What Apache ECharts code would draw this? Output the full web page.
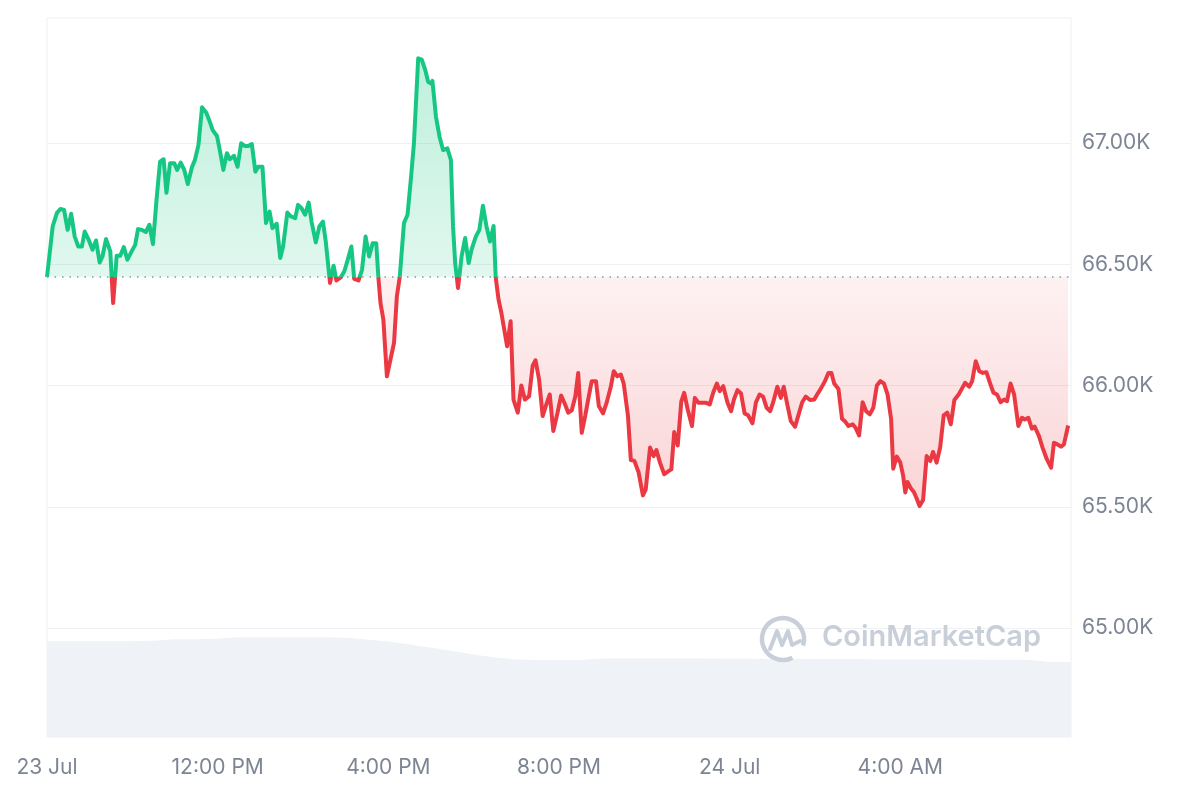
<!DOCTYPE html>
<html><head><meta charset="utf-8">
<script src="https://cdn.jsdelivr.net/npm/echarts@6/dist/echarts.min.js"></script>
<style>html,body{margin:0;padding:0;background:#fff}#c{width:1200px;height:800px}</style>
</head><body><div id="c"></div>
<script>
// Open price (baseline), minutes after 23 Jul 08:00
const openPrice = 66448;
const priceTimes = [
0,8,14,19,24,29,34,39,44,49,
53,58,64,69,74,78,83,89,93,98,
103,108,113,119,124,128,133,139,144,149,
154,159,164,168,173,179,183,188,193,198,
204,208,213,218,224,228,233,239,243,248,
253,257,263,268,273,278,283,288,293,297,
303,308,313,317,323,328,332,338,343,349,
353,358,363,368,372,378,383,388,392,398,
403,407,413,418,423,428,432,438,443,448,
453,458,463,466,469,473,478,483,488,492,
496,502,507,512,516,522,527,532,536,540,
542,547,552,557,563,568,571,574,578,583,
588,593,597,603,608,613,618,623,628,631,
635,639,647,652,656,662,667,672,678,683,
687,692,697,703,707,712,718,723,728,733,
738,743,747,752,757,761,766,772,776,782,
787,793,797,802,807,811,817,821,826,832,
838,842,848,853,857,862,868,874,878,882,
887,892,896,901,907,911,916,922,926,932,
937,942,946,951,957,962,966,971,976,981,
986,992,997,1002,1007,1012,1017,1021,1027,1032,
1036,1041,1046,1052,1057,1062,1067,1073,1079,1083,
1088,1094,1099,1103,1107,1113,1118,1122,1127,1133,
1137,1142,1147,1152,1157,1162,1167,1172,1177,1182,
1187,1190,1195,1200,1204,1207,1210,1215,1219,1223,
1227,1232,1237,1242,1246,1251,1256,1261,1266,1271,
1276,1282,1286,1291,1297,1301,1306,1311,1316,1321,
1326,1331,1336,1341,1346,1350,1355,1360,1366,1371,
1375,1380,1385,1389,1395,1400,1406,1412,1416,1421,
1426,1430,1436
];
const priceValues = [
66448,66656,66712,66728,66724,66642,66708,66614,66573,66573,
66635,66605,66560,66598,66507,66532,66604,66553,66340,66535,
66535,66571,66519,66553,66580,66645,66642,66633,66663,66583,
66765,66923,66933,66795,66916,66916,66889,66919,66889,66831,
66902,66930,66992,67147,67125,67095,67053,67029,66971,66889,
66958,66933,66947,66902,66999,66988,66988,66996,66882,66902,
66902,66670,66717,66649,66667,66526,66573,66713,66697,66690,
66745,66731,66704,66754,66676,66590,66656,66676,66594,66423,
66494,66433,66446,66470,66519,66573,66440,66433,66477,66614,
66532,66587,66587,66446,66340,66272,66038,66107,66176,66368,
66446,66670,66704,66861,66999,67349,67344,67300,67252,67246,
67256,67108,67026,66971,66978,66930,66656,66505,66402,66532,
66608,66505,66560,66614,66642,66741,66656,66594,66658,66446,
66354,66299,66162,66265,65942,65888,66000,65942,65956,66082,
66104,66025,65874,65929,65963,65812,65888,65959,65926,65888,
65898,65956,66052,65805,65877,65942,66018,66018,65915,65885,
65929,65997,66059,66038,66045,66008,65874,65693,65689,65641,
65547,65572,65744,65709,65734,65682,65634,65647,65654,65808,
65753,65935,65970,65901,65833,65949,65929,65929,65929,65922,
65972,66008,65977,65997,65929,65894,65942,65981,65967,65885,
65877,65844,65931,65963,65954,65908,65894,65929,65995,65949,
65995,65922,65853,65830,65881,65931,65954,65940,65942,65963,
65986,66018,66052,66052,66008,65986,65863,65853,65833,65840,
65826,65794,65931,65894,65881,65908,66000,66018,66008,65963,
65863,65657,65707,65682,65627,65559,65602,65575,65561,65534,
65503,65528,65709,65689,65726,65682,65744,65877,65888,65840,
65940,65963,65984,66011,65995,66018,66100,66059,66052,66055,
66011,65970,65963,65931,65942,65935,66008,65963,65833,65867,
65860,65867,65822,65830,65791,65744,65696,65661,65764,65757,
65748,65757,65835
];
// 24h volume (billions USD), every 30 minutes
const volumeTimes = [0,30,60,90,120,150,180,210,240,270,300,330,360,390,420,450,480,510,540,570,600,630,660,690,720,750,780,810,840,870,900,930,960,990,1020,1050,1080,1110,1140,1170,1200,1230,1260,1290,1320,1350,1380,1410,1440];
const volumeValues = [28.8,28.8,28.8,28.8,28.8,28.9,29.4,29.4,29.5,30.0,30.0,30.0,30.0,30.0,29.8,29.3,28.7,27.8,26.8,25.8,24.8,23.9,23.3,23.1,23.1,23.1,23.6,23.6,23.6,23.6,23.6,23.6,23.5,23.5,23.4,23.4,23.4,23.4,23.4,23.3,23.3,23.3,23.3,23.3,23.2,23.2,23.2,22.5,22.5];
const xTickLabels = ['23 Jul','12:00 PM','4:00 PM','8:00 PM','24 Jul','4:00 AM',''];
const yTickValues = [65000,65500,66000,66500,67000];

const n = Math.min(priceTimes.length, priceValues.length);
const priceData = [];
for (let i = 0; i < n; i++) priceData.push([priceTimes[i], priceValues[i]]);
const volData = volumeTimes.map((t, i) => [t, volumeValues[i]]);

const GREEN = '#16c784', RED = '#ea3943', GRID = '#eef0f4', LABEL = '#7d8494', WM = '#c9cfd9';
const FONT = 'Inter, "Noto Sans", sans-serif';
const chart = echarts.init(document.getElementById('c'));
chart.setOption({
  animation: false,
  backgroundColor: '#fff',
  grid: [
    {left: 47, right: 129, top: 21.75, bottom: 50.75, show: false},
    {left: 47, right: 129, top: 18, bottom: 63, show: true, borderColor: GRID, borderWidth: 1, backgroundColor: 'transparent'}
  ],
  xAxis: [
    {gridIndex: 0, type: 'value', min: 0, max: 1440, show: false},
    {gridIndex: 1, type: 'value', min: 0, max: 1440, interval: 240,
      axisLine: {show: false}, axisTick: {show: false}, splitLine: {show: false},
      axisLabel: {margin: 20, color: LABEL, fontSize: 21, fontFamily: FONT,
        formatter: v => xTickLabels[Math.round(v / 240)] || ''}}
  ],
  yAxis: [
    {gridIndex: 0, type: 'value', position: 'right', min: 64500, max: 67500, interval: 500,
      axisLine: {show: false}, axisTick: {show: false},
      splitLine: {show: true, lineStyle: {color: ['rgba(0,0,0,0)', GRID, GRID, GRID, GRID, GRID, 'rgba(0,0,0,0)'], width: 1}},
      axisLabel: {margin: 11, color: LABEL, fontSize: 21, fontFamily: FONT,
        formatter: v => yTickValues.indexOf(v) >= 0 ? (v / 1000).toFixed(2) + 'K' : ''}},
    {gridIndex: 1, type: 'value', min: 0, max: 216, show: false}
  ],
  visualMap: {show: false, type: 'piecewise', seriesIndex: 0, dimension: 1,
    pieces: [{gt: openPrice, lte: 69000, color: GREEN}, {gt: 63000, lte: openPrice, color: RED}],
    outOfRange: {color: '#999'}},
  series: [
    {type: 'line', xAxisIndex: 0, yAxisIndex: 0, data: priceData, symbol: 'none', z: 3,
      lineStyle: {width: 4, join: 'round'},
      areaStyle: {origin: openPrice, opacity: 0.18},
      emphasis: {disabled: true},
      markLine: {silent: true, symbol: 'none', label: {show: false},
        lineStyle: {type: [1.5, 6], color: '#8e95a3', width: 1.5},
        data: [{yAxis: openPrice}]}},
    {type: 'line', xAxisIndex: 1, yAxisIndex: 1, data: volData, symbol: 'none', z: 1,
      lineStyle: {width: 0}, areaStyle: {color: '#eff2f6', opacity: 1}}
  ],
  graphic: [
    {type: 'arc', z: 10, shape: {cx: 783, cy: 639, r: 21, startAngle: Math.PI * 0.35, endAngle: Math.PI * 2.1, clockwise: true},
      style: {stroke: WM, lineWidth: 4.5, fill: null}},
    {type: 'polyline', z: 10, shape: {points: [[770, 649], [777, 631], [782, 645], [788, 631], [792, 645], [800, 641]]},
      style: {stroke: WM, lineWidth: 4, fill: null, lineJoin: 'round', lineCap: 'round'}},
    {type: 'text', z: 10, left: 822, top: 623,
      style: {text: 'CoinMarketCap', fill: WM, font: '600 29px Inter, "Noto Sans", sans-serif'}}
  ]
});

// Area fill: vertical gradient split at the open-price baseline (pixel position from the axis scale)
const yBase = chart.convertToPixel({yAxisIndex: 0}, openPrice);
const yTop = chart.convertToPixel({yAxisIndex: 0}, 67500);
const yBot = chart.convertToPixel({yAxisIndex: 0}, 64500);
const ob = (yBase - yTop) / (yBot - yTop);
chart.setOption({
  series: [{
    lineStyle: {width: 4},
    areaStyle: {
      opacity: 1,
      color: new echarts.graphic.LinearGradient(0, yTop, 0, yBot, [
        {offset: 0, color: 'rgba(22,199,132,0.30)'},
        {offset: ob - 0.0005, color: 'rgba(22,199,132,0.13)'},
        {offset: ob + 0.0005, color: 'rgba(234,57,67,0.07)'},
        {offset: ob + 0.32, color: 'rgba(234,57,67,0.22)'},
        {offset: 1, color: 'rgba(234,57,67,0.26)'}
      ], true)
    }
  }, {}]
});
</script></body></html>
